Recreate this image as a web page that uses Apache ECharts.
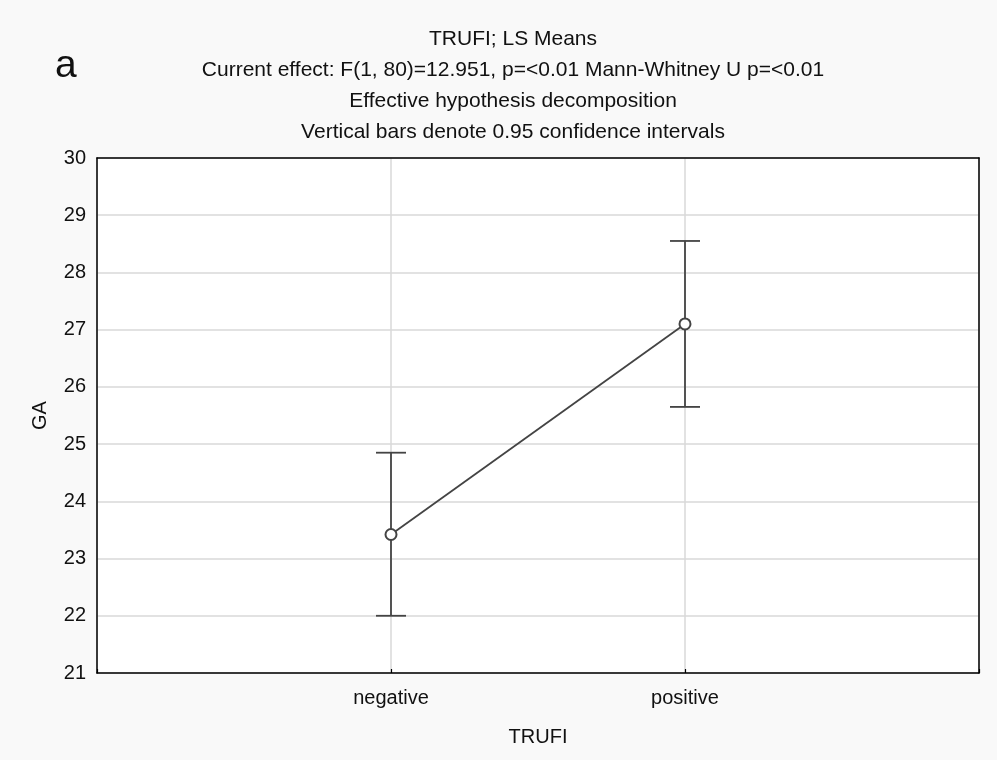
<!DOCTYPE html>
<html><head><meta charset="utf-8">
<script src="https://cdn.jsdelivr.net/npm/echarts@6/dist/echarts.min.js"></script>
<style>html,body{margin:0;padding:0;background:#f9f9f9;}#c{width:997px;height:760px;}</style>
</head><body><div id="c"></div>
<script>
const categories = ['negative', 'positive'];
const means = [23.42, 27.10];
const ciLow = [22.00, 25.65];
const ciHigh = [24.85, 28.55];
const yTicks = [21, 22, 23, 24, 25, 26, 27, 28, 29, 30];

const axisCats = [''].concat(categories, ['']);
const font = 'Liberation Sans, Arial, sans-serif';
const txt = '#111';
const chart = echarts.init(document.getElementById('c'));
chart.setOption({
  backgroundColor: '#f9f9f9',
  animation: false,
  title: [{
    text: 'TRUFI; LS Means\nCurrent effect: F(1, 80)=12.951, p=<0.01 Mann-Whitney U p=<0.01\nEffective hypothesis decomposition\nVertical bars denote 0.95 confidence intervals',
    left: 508, top: 19, textAlign: 'center',
    textStyle: {fontFamily: font, fontSize: 21, fontWeight: 'normal', color: txt, lineHeight: 30.8}
  }, {
    text: 'a', left: 50, top: 42,
    textStyle: {fontFamily: font, fontSize: 39, fontWeight: 'normal', color: txt}
  }],
  grid: {left: 97, right: 18, top: 158, bottom: 87, show: true, backgroundColor: '#fff', borderColor: '#000', borderWidth: 0},
  xAxis: [{
    type: 'category', data: axisCats, boundaryGap: false,
    name: 'TRUFI', nameLocation: 'middle', nameGap: 54,
    nameTextStyle: {fontFamily: font, fontSize: 20, color: txt},
    axisLine: {show: true, lineStyle: {color: '#000', width: 1.5}},
    axisTick: {show: true, inside: true, length: 4, lineStyle: {color: '#000', width: 1.2}},
    axisLabel: {fontFamily: font, fontSize: 20, color: txt, margin: 15},
    splitLine: {show: true, lineStyle: {color: '#d9d9d9', width: 1.5}},
    z: 5
  }, {
    type: 'category', data: axisCats, boundaryGap: false, position: 'top',
    axisLine: {show: true, lineStyle: {color: '#000', width: 1.5}},
    axisTick: {show: false}, axisLabel: {show: false}, splitLine: {show: false},
    z: 5
  }],
  yAxis: [{
    type: 'value', min: yTicks[0], max: yTicks[yTicks.length - 1], interval: 1,
    name: 'GA', nameLocation: 'middle', nameGap: 47, nameRotate: 90,
    nameTextStyle: {fontFamily: font, fontSize: 20, color: txt},
    axisLine: {show: true, lineStyle: {color: '#000', width: 1.5}},
    axisTick: {show: false},
    axisLabel: {fontFamily: font, fontSize: 20, color: txt, margin: 11},
    splitLine: {show: true, lineStyle: {color: '#d9d9d9', width: 1.5}},
    z: 5
  }, {
    type: 'value', min: yTicks[0], max: yTicks[yTicks.length - 1], interval: 1, position: 'right',
    axisLine: {show: true, lineStyle: {color: '#000', width: 1.5}},
    axisTick: {show: false}, axisLabel: {show: false}, splitLine: {show: false},
    z: 5
  }],
  series: [{
    type: 'custom',
    data: categories.map((c, i) => [c, ciLow[i], ciHigh[i]]),
    encode: {x: 0, y: [1, 2]},
    renderItem: function (params, api) {
      const lo = api.coord([api.value(0), api.value(1)]);
      const hi = api.coord([api.value(0), api.value(2)]);
      const w = 15;
      const st = {stroke: '#444', lineWidth: 1.8, fill: null};
      return {type: 'group', children: [
        {type: 'line', shape: {x1: lo[0], y1: lo[1], x2: hi[0], y2: hi[1]}, style: st},
        {type: 'line', shape: {x1: lo[0] - w, y1: lo[1], x2: lo[0] + w, y2: lo[1]}, style: st},
        {type: 'line', shape: {x1: hi[0] - w, y1: hi[1], x2: hi[0] + w, y2: hi[1]}, style: st}
      ]};
    },
    z: 10
  }, {
    type: 'line',
    data: categories.map((c, i) => [c, means[i]]),
    symbol: 'emptyCircle', symbolSize: 11,
    lineStyle: {color: '#444', width: 1.8},
    itemStyle: {color: '#444', borderColor: '#444', borderWidth: 1.5},
    z: 11
  }]
});
</script></body></html>
